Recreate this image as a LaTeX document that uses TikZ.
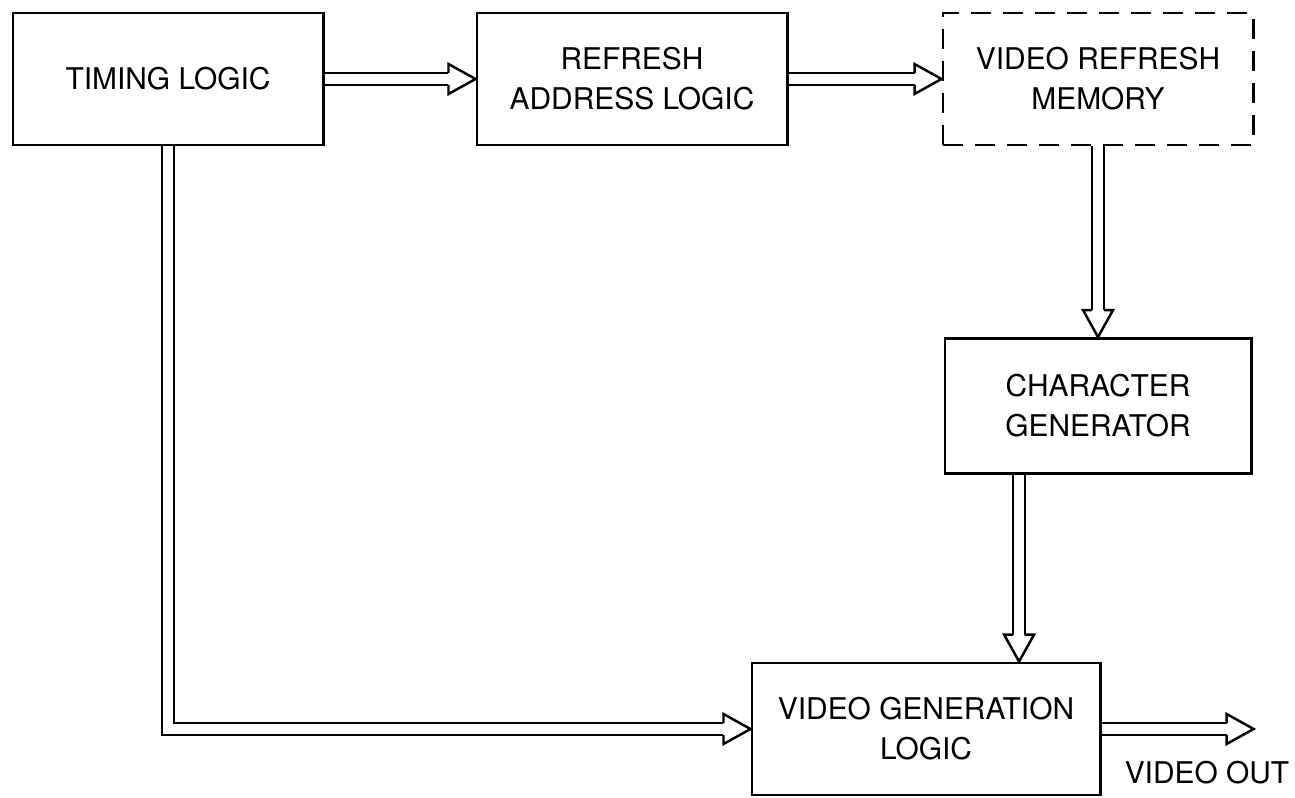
\documentclass[tikz,border=0pt]{standalone}
\usepackage{fontspec}
\setmainfont{TeX Gyre Heros}
\usetikzlibrary{positioning}

\tikzset{
  block/.style={draw,line width=0.8pt,minimum width=3.1cm,minimum height=1.32cm,
    align=center,font=\fontsize{8.5}{11.4}\selectfont},
  busline/.style={draw,line width=0.7pt,double=white,double distance=0.095cm,shorten >=0.27cm},
  bushead/.pic={\draw[line width=0.7pt] (-27,6) -- (-27,15) -- (0,0) -- (-27,-15) -- (-27,-6);}
}

\begin{document}
\begin{tikzpicture}[x=0.01cm,y=-0.01cm]
\useasboundingbox (0,0) rectangle (1295,798);
\node[block] (timing) at (168,79) {TIMING LOGIC};
\node[block] (refresh) at (632,79) {REFRESH\\ADDRESS LOGIC};
\node[block,dash pattern=on 5.7pt off 3.4pt] (memory) at (1098,79) {VIDEO REFRESH\\MEMORY};
\node[block,minimum width=3.06cm,minimum height=1.35cm] (chargen) at (1098,406) {CHARACTER\\GENERATOR};
\node[block,minimum width=3.48cm,minimum height=1.32cm] (videogen) at (926,729) {VIDEO GENERATION\\LOGIC};
\coordinate (cgin) at ([xshift=0.93cm]videogen.north);
\coordinate (vout) at ([xshift=1.52cm]videogen.east);
\node[font=\fontsize{8.5}{11.4}\selectfont,anchor=north east] (outlabel) at ([xshift=0.48cm,yshift=-0.2cm]vout) {VIDEO OUT};

% buses
\draw[busline] (timing.east) -- (refresh.west);
\pic at (refresh.west) {bushead};
\draw[busline] (refresh.east) -- (memory.west);
\pic at (memory.west) {bushead};
\draw[busline] (memory.south) -- (chargen.north);
\pic[rotate=-90] at (chargen.north) {bushead};
\draw[busline] (chargen.south -| cgin) -- (cgin);
\pic[rotate=-90] at (cgin) {bushead};
\draw[busline] (timing.south) |- (videogen.west);
\pic at (videogen.west) {bushead};
\draw[busline] (videogen.east) -- (vout);
\pic at (vout) {bushead};
\end{tikzpicture}
\end{document}
